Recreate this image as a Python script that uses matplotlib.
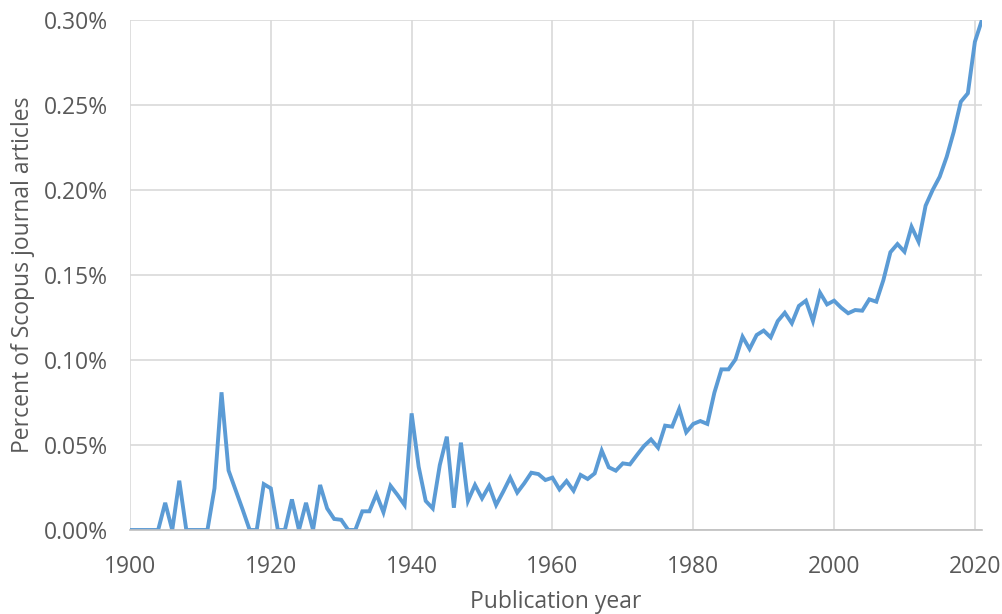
import numpy as np
import matplotlib
matplotlib.use("Agg")
import matplotlib.pyplot as plt
from matplotlib.ticker import FuncFormatter

# share of Scopus journal articles (percent), 1900-2021
years = list(range(1900, 2022))
pct = [
    0.000, 0.000, 0.000, 0.000, 0.000, 0.016, 0.000, 0.029, 0.000, 0.000,  # 1900s
    0.000, 0.000, 0.0245, 0.081, 0.035, 0.0235, 0.012, 0.000, 0.000, 0.027,  # 1910s
    0.0245, 0.000, 0.000, 0.018, 0.000, 0.016, 0.000, 0.0265, 0.0127, 0.0065,  # 1920s
    0.006, 0.000, 0.000, 0.011, 0.011, 0.021, 0.0104, 0.026, 0.0206, 0.0147,  # 1930s
    0.0686, 0.0372, 0.0171, 0.0127, 0.0382, 0.0549, 0.0131, 0.0514, 0.0171, 0.0265,  # 1940s
    0.0186, 0.0259, 0.0147, 0.0225, 0.0308, 0.022, 0.0275, 0.0337, 0.0329, 0.0294,  # 1950s
    0.0308, 0.0239, 0.0288, 0.0231, 0.0324, 0.030, 0.0333, 0.0467, 0.0369, 0.0349,  # 1960s
    0.0392, 0.0386, 0.0441, 0.0494, 0.0533, 0.0484, 0.0614, 0.0608, 0.0712, 0.0575,  # 1970s
    0.0624, 0.0641, 0.0624, 0.0808, 0.0945, 0.0945, 0.1004, 0.1137, 0.1065, 0.1147,  # 1980s
    0.1173, 0.1133, 0.1229, 0.1278, 0.1216, 0.1318, 0.1349, 0.1229, 0.1396, 0.1327,  # 1990s
    0.1349, 0.1308, 0.1275, 0.1294, 0.129, 0.1357, 0.1343, 0.147, 0.1634, 0.1682,  # 2000s
    0.1637, 0.1784, 0.1696, 0.1908, 0.200, 0.2078, 0.2196, 0.2343, 0.2519, 0.2569,  # 2010s
    0.2872, 0.300,  # 2020-2021
]

plt.rcParams['font.family'] = ['Open Sans', 'DejaVu Sans']

fig = plt.figure(figsize=(10.03, 6.14), dpi=100)
ax = fig.add_axes([0.1296, 0.1368, 0.8494, 0.8306])

ax.plot(years, pct, color='#5B9BD5', lw=2.8, solid_joinstyle='miter')

ax.set_xlim(1900, 2021)
ax.set_ylim(0, 0.30)
ax.set_xticks(range(1900, 2021, 20))
ax.set_yticks(np.arange(0, 0.301, 0.05))
ax.yaxis.set_major_formatter(FuncFormatter(lambda v, p: f"{v:.2f}%"))

ax.grid(True, color='#D9D9D9', lw=1.2)
ax.set_axisbelow(True)
for s in ['top', 'right', 'left']:
    ax.spines[s].set_visible(False)
ax.spines['bottom'].set_color('#BFBFBF')
ax.spines['bottom'].set_linewidth(1.2)

ax.tick_params(length=0, labelsize=16.5, labelcolor='#595959')
ax.tick_params(axis='x', pad=18)
ax.tick_params(axis='y', pad=16)
ax.set_xlabel('Publication year', fontsize=16.5, color='#595959', labelpad=8)
ax.set_ylabel('Percent of Scopus journal articles', fontsize=16.5, color='#595959', labelpad=6)

fig.savefig('out.png', dpi=100)
